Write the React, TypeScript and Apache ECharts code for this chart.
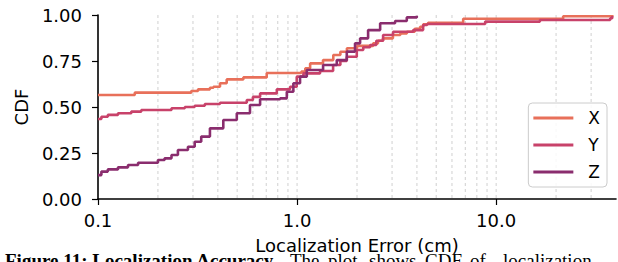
import React, { useEffect, useRef } from "react";
import * as echarts from "echarts";

const seriesNames = ["X", "Y", "Z"];
const seriesColors = ["#e8705a", "#c8426a", "#8a2d6e"];

const xData: [number, number][] = [
  [0.1, 0.565], [0.153, 0.578], [0.294, 0.587], [0.318, 0.596], [0.365, 0.605],
  [0.38, 0.61], [0.41, 0.629], [0.443, 0.65], [0.537, 0.661], [0.704, 0.685],
  [1.05, 0.692], [1.1, 0.71], [1.163, 0.737], [1.35, 0.755], [1.52, 0.783],
  [1.65, 0.8], [1.78, 0.819], [2.0, 0.832], [2.41, 0.846], [2.55, 0.86],
  [2.7, 0.873], [3.03, 0.891], [3.3, 0.9], [3.56, 0.909], [3.9, 0.925],
  [4.15, 0.936], [4.3, 0.95], [4.55, 0.958], [6.83, 0.98], [21.7, 0.993], [38.3, 1.0],
];

const yData: [number, number][] = [
  [0.1, 0.435], [0.104, 0.447], [0.112, 0.457], [0.126, 0.466], [0.147, 0.475],
  [0.165, 0.484], [0.234, 0.493], [0.273, 0.5], [0.306, 0.507], [0.344, 0.516],
  [0.41, 0.523], [0.559, 0.538], [0.6, 0.555], [0.652, 0.574], [0.791, 0.596],
  [0.922, 0.61], [0.996, 0.665], [1.076, 0.683], [1.305, 0.696], [1.517, 0.728],
  [1.65, 0.75], [1.777, 0.773], [1.995, 0.81], [2.15, 0.825], [2.327, 0.837],
  [2.5, 0.86], [2.705, 0.891], [3.035, 0.909], [3.828, 0.918], [4.297, 0.946],
  [4.5, 0.951], [8.81, 0.964], [16.6, 0.973], [37.4, 0.982], [38.3, 0.995],
];

const zData: [number, number][] = [
  [0.1, 0.13], [0.104, 0.149], [0.112, 0.161], [0.126, 0.172], [0.1415, 0.185],
  [0.159, 0.197], [0.2, 0.212], [0.216, 0.221], [0.234, 0.239], [0.252, 0.266],
  [0.283, 0.284], [0.306, 0.311], [0.33, 0.339], [0.365, 0.384], [0.426, 0.429],
  [0.498, 0.466], [0.58, 0.511], [0.652, 0.542], [0.822, 0.547], [0.888, 0.583],
  [0.958, 0.629], [1.035, 0.665], [1.119, 0.701], [1.351, 0.728], [1.583, 0.755],
  [1.777, 0.801], [1.955, 0.846], [2.073, 0.873], [2.274, 0.918], [2.614, 0.955],
  [3.106, 0.967], [3.557, 0.987], [3.993, 0.996],
];

const xTickValues = [0.1, 1, 10];
const gridXValues = [
  0.2, 0.3, 0.4, 0.5, 0.6, 0.7, 0.8, 0.9, 1, 2, 3, 4, 5, 6, 7, 8, 9, 10, 20, 30,
];

const captionBold = "Figure 11: Localization Accuracy.";
const captionWords = ["The", "plot", "shows", "CDF", "of", "localization"];
const captionWordX = [290, 328, 369, 425, 470, 503];

export default function App() {
  const ref = useRef<HTMLDivElement>(null);

  useEffect(() => {
    if (!ref.current) return;
    const chart = echarts.init(ref.current, undefined, { renderer: "svg" });
    const font = "DejaVu Sans";
    const fs = 18;
    const dataSets = [xData, yData, zData];

    const option: any = {
      animation: false,
      backgroundColor: "#ffffff",
      textStyle: { fontFamily: font },
      grid: {
        left: 98,
        right: 2,
        top: 15,
        bottom: 63,
        containLabel: false,
        outerBoundsMode: "none",
      },
      xAxis: {
        type: "log",
        logBase: 10,
        min: 0.1,
        max: 40,
        name: "Localization Error (cm)",
        nameLocation: "middle",
        nameGap: 37,
        nameTextStyle: { fontSize: fs, color: "#000", fontFamily: font },
        axisLine: { show: true, lineStyle: { color: "#000", width: 1.6 } },
        axisTick: {
          show: true,
          inside: false,
          length: 6,
          customValues: xTickValues,
          lineStyle: { color: "#000", width: 1.2 },
        },
        axisLabel: {
          fontSize: fs,
          color: "#000",
          fontFamily: font,
          margin: 12,
          customValues: xTickValues,
          formatter: (v: number) => v.toFixed(1),
        },
        splitLine: { show: false },
        minorTick: { show: false },
      },
      yAxis: {
        type: "value",
        min: 0,
        max: 1,
        interval: 0.25,
        name: "CDF",
        nameLocation: "middle",
        nameGap: 68,
        nameTextStyle: { fontSize: fs, color: "#000", fontFamily: font },
        axisLine: { show: true, lineStyle: { color: "#000", width: 1.6 } },
        axisTick: { show: true, inside: false, length: 6, lineStyle: { color: "#000", width: 1.2 } },
        axisLabel: {
          fontSize: fs,
          color: "#000",
          fontFamily: font,
          margin: 16,
          formatter: (v: number) => v.toFixed(2),
        },
        splitLine: { show: false },
      },
      legend: {
        data: seriesNames,
        orient: "vertical",
        right: 11,
        top: 103,
        padding: [6, 7, 6, 5],
        itemWidth: 40,
        itemHeight: 3,
        itemGap: 9,
        icon: "rect",
        borderColor: "#cccccc",
        borderWidth: 1,
        borderRadius: 4,
        backgroundColor: "rgba(255,255,255,0.85)",
        textStyle: { fontSize: 17, color: "#000", fontFamily: font, padding: [0, 0, 0, 10], lineHeight: 18 },
      },
      series: [
        {
          name: "grid",
          type: "custom",
          silent: true,
          z: 1,
          encode: { x: 0, y: 1 },
          data: gridXValues.map((v) => [v, 0]),
          renderItem: (_params: any, api: any) => {
            const v = api.value(0);
            const bottom = api.coord([v, 0]);
            const top = api.coord([v, 1]);
            return {
              type: "line",
              shape: { x1: bottom[0], y1: top[1], x2: bottom[0], y2: bottom[1] },
              style: { stroke: "#c4c4c4", lineWidth: 0.8, lineDash: [3, 3] },
              silent: true,
            };
          },
        },
        ...seriesNames.map((name, i) => ({
          name,
          type: "line",
          step: "end",
          data: dataSets[i],
          showSymbol: false,
          symbol: "none",
          z: 3,
          lineStyle: { color: seriesColors[i], width: 2.6 },
          itemStyle: { color: seriesColors[i] },
        })),
      ],
      graphic: [
        {
          type: "text",
          left: 5,
          top: 251,
          style: {
            text: captionBold,
            font: 'bold 19px "Liberation Serif"',
            fill: "#000",
          },
        },
        ...captionWords.map((w, i) => ({
          type: "text",
          left: captionWordX[i],
          top: 251,
          style: {
            text: w,
            font: '19px "Liberation Serif"',
            fill: "#000",
          },
        })),
      ],
    };

    chart.setOption(option);
    return () => chart.dispose();
  }, []);

  return (
    <div
      ref={ref}
      style={{ position: "absolute", left: 0, top: 0, width: 618, height: 262 }}
    />
  );
}
